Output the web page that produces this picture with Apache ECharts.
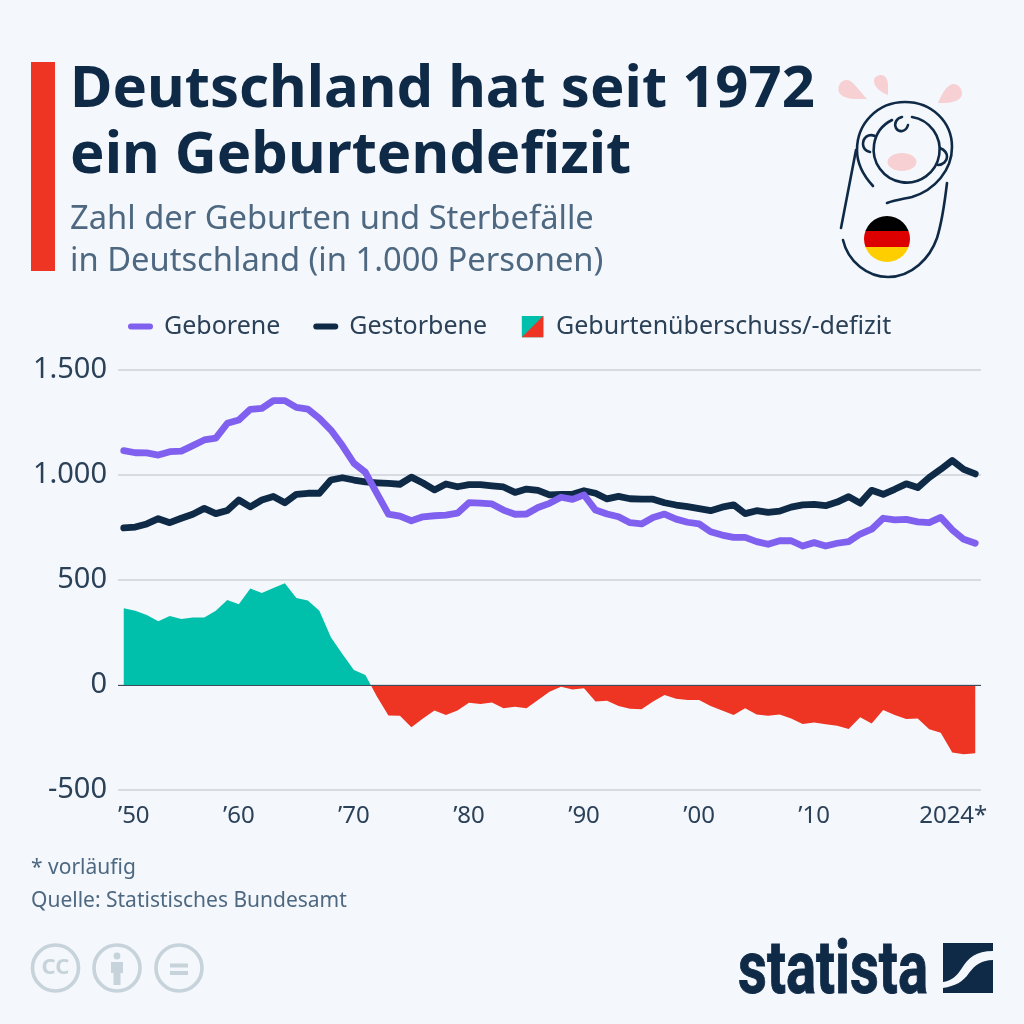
<!DOCTYPE html>
<html>
<head>
<meta charset="utf-8">
<style>html,body{margin:0;padding:0;background:#f4f7fb}#chart{width:1024px;height:1024px}</style>
<script src="https://cdn.jsdelivr.net/npm/echarts@6/dist/echarts.min.js"></script>
</head>
<body>
<div id="chart"></div>
<script>
var years = [1950,1951,1952,1953,1954,1955,1956,1957,1958,1959,
    1960,1961,1962,1963,1964,1965,1966,1967,1968,1969,
    1970,1971,1972,1973,1974,1975,1976,1977,1978,1979,
    1980,1981,1982,1983,1984,1985,1986,1987,1988,1989,
    1990,1991,1992,1993,1994,1995,1996,1997,1998,1999,
    2000,2001,2002,2003,2004,2005,2006,2007,2008,2009,
    2010,2011,2012,2013,2014,2015,2016,2017,2018,2019,
    2020,2021,2022,2023,2024];
var geborene = [1116,1106,1105,1095,1111,1114,1140,1167,1176,1246,
    1262,1313,1317,1354,1354,1322,1314,1270,1214,1140,
    1056,1013,913,814,804,782,801,806,809,818,
    868,866,862,833,813,814,845,865,894,884,
    905,833,814,801,773,767,798,814,790,775,
    767,730,714,703,703,683,670,687,687,662,
    678,662,675,683,719,742,794,786,789,777,
    773,798,739,694,675];
var gestorbene = [748,752,767,792,773,794,813,841,816,831,
    881,848,881,898,868,908,913,913,976,987,
    976,967,963,960,956,990,962,929,957,944,
    954,954,948,943,917,933,927,905,908,908,
    925,913,886,898,887,885,885,868,857,849,
    840,830,847,858,816,830,822,828,847,858,
    860,854,871,897,866,927,908,932,958,940,
    988,1027,1069,1027,1005];
var saldo = [366,354,333,303,329,314,321,322,354,405,
    384,459,438,462,484,414,402,354,227,148,
    71,48,-55,-145,-147,-201,-159,-122,-143,-122,
    -84,-90,-83,-111,-103,-111,-71,-32,-8,-21,
    -16,-79,-75,-100,-113,-116,-79,-48,-65,-71,
    -72,-100,-122,-143,-111,-140,-146,-141,-159,-186,
    -179,-187,-194,-210,-154,-183,-119,-143,-162,-159,
    -211,-227,-322,-330,-325];
var xTickLabels = {1950:'{first|’50}',1960:'’60',1970:'’70',1980:'’80',1990:'’90',2000:'’00',2010:'’10',2024:'{last|2024*}'};
var yTickLabels = ['-500','0','500','1.000','1.500'];
var seriesNames = ['Geborene','Gestorbene','Geburtenüberschuss/-defizit'];

var navy = '#0f2a47', purple = '#8060ee', teal = '#00bfab', red = '#ee3524', pink = '#f6d0d2', ccGrey = '#c6d3db';
var font = '"Noto Sans", sans-serif';

var lineIcon = 'path://M3,0H22A3,3 0 0 1 22,6H3A3,3 0 0 1 3,0Z';
var splitIcon = 'image://data:image/svg+xml;utf8,' + encodeURIComponent(
    '<svg xmlns="http://www.w3.org/2000/svg" width="22" height="22"><rect width="22" height="22" fill="' + teal + '"/><path d="M22,0V22H0Z" fill="' + red + '"/></svg>');

function titleItem(text, left, top, size, weight, color, lh) {
    return {text: text, left: left, top: top, padding: 0, textStyle: {fontFamily: font, fontSize: size, fontWeight: weight, color: color, lineHeight: lh}};
}

// the graphic component has no plain path type, so each drawing gets its own shape
var shapeCount = 0;
function pathEl(d, style) {
    var name = 'deco' + (shapeCount++);
    echarts.graphic.registerShape(name, echarts.graphic.extendPath(d, {}));
    return {type: name, style: style};
}
var outline = {fill: 'none', stroke: navy, lineWidth: 2.6, lineCap: 'round'};

var option = {
    backgroundColor: '#f4f7fb',
    animation: false,
    title: [
        titleItem('Deutschland hat seit 1972\nein Geburtendefizit', 70, 57, 58, 700, navy, 66),
        titleItem('Zahl der Geburten und Sterbefälle\nin Deutschland (in 1.000 Personen)', 70, 199, 32.7, 400, '#4d6880', 42),
        titleItem('* vorläufig', 31, 855, 21, 400, '#4d6880', 26),
        titleItem('Quelle: Statistisches Bundesamt', 31, 888, 21, 400, '#4d6880', 26)
    ],
    legend: {
        left: 123,
        top: 309,
        itemWidth: 25,
        itemHeight: 22,
        itemGap: 33,
        textStyle: {fontFamily: font, fontSize: 25, color: '#2b4158', padding: [0, 0, 0, 6]},
        data: [
            {name: seriesNames[0], icon: lineIcon},
            {name: seriesNames[1], icon: lineIcon},
            {name: seriesNames[2], icon: splitIcon}
        ]
    },
    grid: {left: 118, right: 43, top: 370, height: 420},
    xAxis: {
        type: 'category',
        data: years,
        boundaryGap: true,
        axisLine: {show: false, onZero: false},
        axisTick: {show: false},
        splitLine: {show: false},
        axisLabel: {
            interval: function (i, v) { return xTickLabels[v] !== undefined; },
            formatter: function (v) { return xTickLabels[v] || ''; },
            margin: 14,
            fontFamily: font,
            fontSize: 24,
            color: '#2b4158',
            rich: {
                first: {fontFamily: font, fontSize: 24, color: '#2b4158', padding: [0, 0, 0, 20]},
                last: {fontFamily: font, fontSize: 24, color: '#2b4158', padding: [0, 44, 0, 0]}
            }
        }
    },
    yAxis: {
        type: 'value',
        min: -500,
        max: 1500,
        interval: 500,
        axisLine: {show: false},
        axisTick: {show: false},
        splitLine: {show: true, lineStyle: {color: '#ccd3da', width: 1.5}},
        axisLabel: {
            formatter: function (v, i) { return yTickLabels[i]; },
            margin: 11,
            fontFamily: font,
            fontSize: 29,
            color: '#2b4158'
        }
    },
    visualMap: {
        show: false,
        seriesIndex: 0,
        dimension: 1,
        pieces: [{gt: 0, lte: 1500, color: teal}, {gte: -500, lte: 0, color: red}]
    },
    series: [
        {name: seriesNames[2], type: 'line', data: saldo, showSymbol: false, silent: true, z: 1,
            lineStyle: {width: 0}, areaStyle: {opacity: 1}, itemStyle: {color: red},
            markLine: {silent: true, symbol: 'none', label: {show: false}, data: [{yAxis: 0}],
                lineStyle: {color: '#3d4c5c', width: 1.2, type: 'solid'}}},
        {name: seriesNames[0], type: 'line', data: geborene, showSymbol: false, z: 3,
            lineStyle: {color: purple, width: 6.8, join: 'round', cap: 'round'}, itemStyle: {color: purple}},
        {name: seriesNames[1], type: 'line', data: gestorbene, showSymbol: false, z: 2,
            lineStyle: {color: navy, width: 6.8, join: 'round', cap: 'round'}, itemStyle: {color: navy}}
    ],
    graphic: [
        {type: 'rect', shape: {x: 31, y: 62, width: 24, height: 209}, style: {fill: red}},
        // tears
        pathEl('M867,99 C858,99 846,100 840,94 C836,88 840,80 847,80 C853,80 860,92 867,99Z', {fill: pink}),
        pathEl('M888,95 C882,93 875,88 874,82 C873,77 878,75 881,75 C886,75 888,80 888,86Z', {fill: pink}),
        pathEl('M938,103 C941,96 946,85 953,84 C960,84 964,92 961,97 C957,103 946,103 938,103Z', {fill: pink}),
        // baby
        {type: 'ellipse', shape: {cx: 902, cy: 162, rx: 14.5, ry: 9}, style: {fill: pink}},
        pathEl('M873,186 C860,172 857,160 857,150 C857,123 878,102 905,102 C932,102 952,122 952,147 C952,170 935,190 912,197 C903,199 895,200 887,203', outline),
        pathEl('M912,117 A33,33 0 1 1 892,120', outline),
        pathEl('M902,117 C896,118 894,124 896,128 C899,133 906,132 908,125', outline),
        pathEl('M875,136 C868,133 863,138 863,144 C863,149 866,151 870,152', outline),
        pathEl('M940,148 C945,150 947,153 947,157 C947,161 943,165 938,165', outline),
        pathEl('M856,150 L841,228', outline),
        pathEl('M843,240 C848,262 868,277 888,277 C912,277 930,258 937,238 C942,222 945,200 947,183', outline),
        {type: 'circle', shape: {cx: 887, cy: 239, r: 23}, style: {fill: new echarts.graphic.LinearGradient(0, 0, 0, 1, [
            {offset: 0, color: '#000'}, {offset: 0.333, color: '#000'},
            {offset: 0.333, color: '#dd0000'}, {offset: 0.667, color: '#dd0000'},
            {offset: 0.667, color: '#ffce00'}, {offset: 1, color: '#ffce00'}])}},
        // cc icons
        {type: 'circle', shape: {cx: 55.5, cy: 968, r: 23}, style: {fill: 'none', stroke: ccGrey, lineWidth: 3.6}},
        {type: 'text', style: {x: 55.5, y: 968, text: 'CC', align: 'center', verticalAlign: 'middle', fontFamily: font, fontWeight: 700, fontSize: 22, fill: ccGrey}},
        {type: 'circle', shape: {cx: 117, cy: 968, r: 23}, style: {fill: 'none', stroke: ccGrey, lineWidth: 3.6}},
        {type: 'circle', shape: {cx: 117, cy: 956, r: 3.4}, style: {fill: ccGrey}},
        pathEl('M111,962 H123 V973 H120.5 V985 H113.5 V973 H111Z', {fill: ccGrey}),
        {type: 'circle', shape: {cx: 179, cy: 968, r: 23}, style: {fill: 'none', stroke: ccGrey, lineWidth: 3.6}},
        {type: 'rect', shape: {x: 170, y: 963.5, width: 18, height: 4}, style: {fill: ccGrey}},
        {type: 'rect', shape: {x: 170, y: 971, width: 18, height: 4}, style: {fill: ccGrey}},
        // statista logo
        {type: 'text', x: 738, y: 0, scaleX: 0.75, style: {x: 0, y: 1012, text: 'statista', verticalAlign: 'bottom', fontFamily: 'Roboto, sans-serif', fontWeight: 700, fontSize: 75, lineHeight: 75, fill: navy, stroke: navy, lineWidth: 1}},
        pathEl('M943,943 H993 V951 C976,951 968,958 962,968 C957,976 951,981 943,982Z', {fill: navy}),
        pathEl('M993,960 V993 H943 V988 C955,986 963,982 969,973 C975,965 982,960 993,960Z', {fill: navy})
    ]
};

var chart = echarts.init(document.getElementById('chart'));
chart.setOption(option);
</script>
</body>
</html>
